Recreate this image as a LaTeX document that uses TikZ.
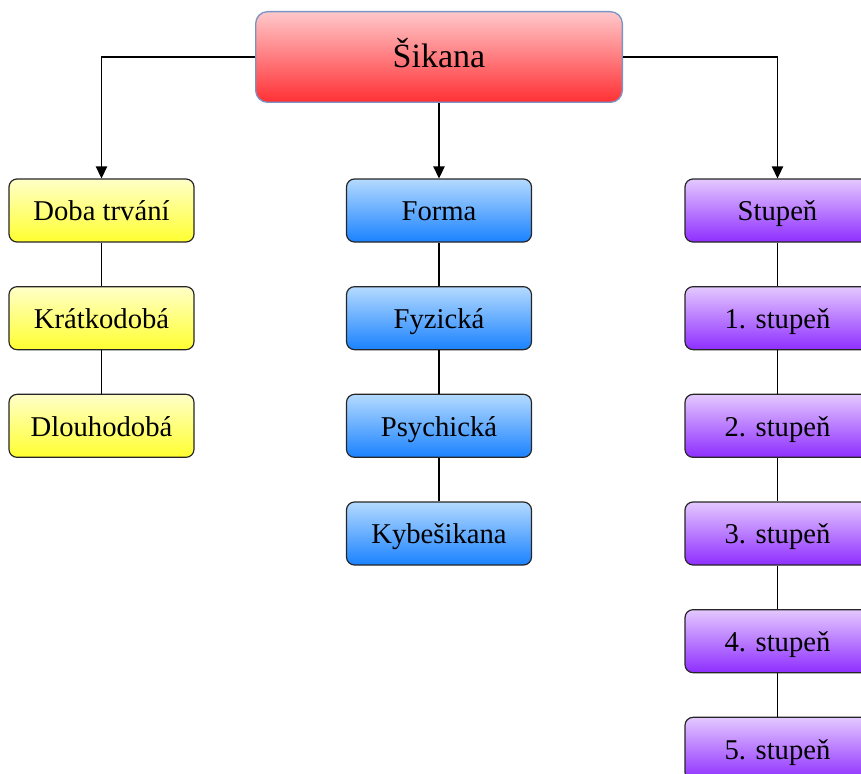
\documentclass[tikz,border=0pt]{standalone}
\usepackage{fontspec}
\setmainfont{Liberation Serif}
\usetikzlibrary{positioning,arrows.meta}

\definecolor{redtop}{HTML}{FFC8CA}
\definecolor{redbot}{HTML}{FF3034}
\definecolor{yeltop}{HTML}{FFFFC8}
\definecolor{yelbot}{HTML}{FFFF30}
\definecolor{blutop}{HTML}{B4DAFF}
\definecolor{blubot}{HTML}{1A82FF}
\definecolor{purtop}{HTML}{E4C8FF}
\definecolor{purbot}{HTML}{8E2EFF}
\definecolor{mainline}{HTML}{7A94C4}

\tikzset{
  box/.style={draw=black!85, line width=0.9pt, rounded corners=6pt,
    minimum width=138.75pt, minimum height=47.25pt, inner sep=0pt,
    text height=19.4pt, text depth=3.9pt,
    font=\fontsize{21.5}{26}\selectfont},
  rootbox/.style={draw=mainline, line width=1pt, rounded corners=9pt,
    minimum width=275pt, minimum height=68pt, inner sep=0pt,
    text height=20pt, text depth=3.5pt,
    top color=redtop, bottom color=redbot,
    font=\fontsize{25.5}{30}\selectfont},
  yelbox/.style={box, top color=yeltop, bottom color=yelbot},
  blubox/.style={box, top color=blutop, bottom color=blubot},
  purbox/.style={box, top color=purtop, bottom color=purbot},
  arr/.style={line width=1.2pt, -{Triangle[length=9pt,width=8.5pt]}},
  link/.style={line width=1.2pt}
}

\begin{document}
\begin{tikzpicture}[x=0.75pt,y=-0.75pt,node distance=32.6pt]
  \useasboundingbox (0,0) rectangle (861,774);

  \node[rootbox] (sikana) at (439,57) {Šikana};

  % doba trvani
  \node[yelbox] (doba) at (101.5,210.5) {Doba trvání};
  \node[yelbox,below=of doba] (kratko) {Krátkodobá};
  \node[yelbox,below=of kratko] (dlouho) {Dlouhodobá};

  % forma
  \node[blubox] (forma) at (439,210.5) {Forma};
  \node[blubox,below=of forma] (fyzicka) {Fyzická};
  \node[blubox,below=of fyzicka] (psychicka) {Psychická};
  \node[blubox,below=of psychicka] (kyber) {Kybešikana};

  % stupen
  \node[purbox] (stupen) at (777.5,210.5) {Stupeň};
  \node[purbox,below=of stupen] (st1) {1. stupeň};
  \node[purbox,below=of st1] (st2) {2. stupeň};
  \node[purbox,below=of st2] (st3) {3. stupeň};
  \node[purbox,below=of st3] (st4) {4. stupeň};
  \node[purbox,below=of st4] (st5) {5. stupeň};

  \draw[arr] (sikana.west) -| (doba.north);
  \draw[arr] (sikana.south) -- (forma.north);
  \draw[arr] (sikana.east) -| (stupen.north);

  \draw[link] (doba) -- (kratko);
  \draw[link] (kratko) -- (dlouho);
  \draw[link] (forma) -- (fyzicka);
  \draw[link] (fyzicka) -- (psychicka);
  \draw[link] (psychicka) -- (kyber);
  \draw[link] (stupen) -- (st1);
  \draw[link] (st1) -- (st2);
  \draw[link] (st2) -- (st3);
  \draw[link] (st3) -- (st4);
  \draw[link] (st4) -- (st5);
\end{tikzpicture}
\end{document}
